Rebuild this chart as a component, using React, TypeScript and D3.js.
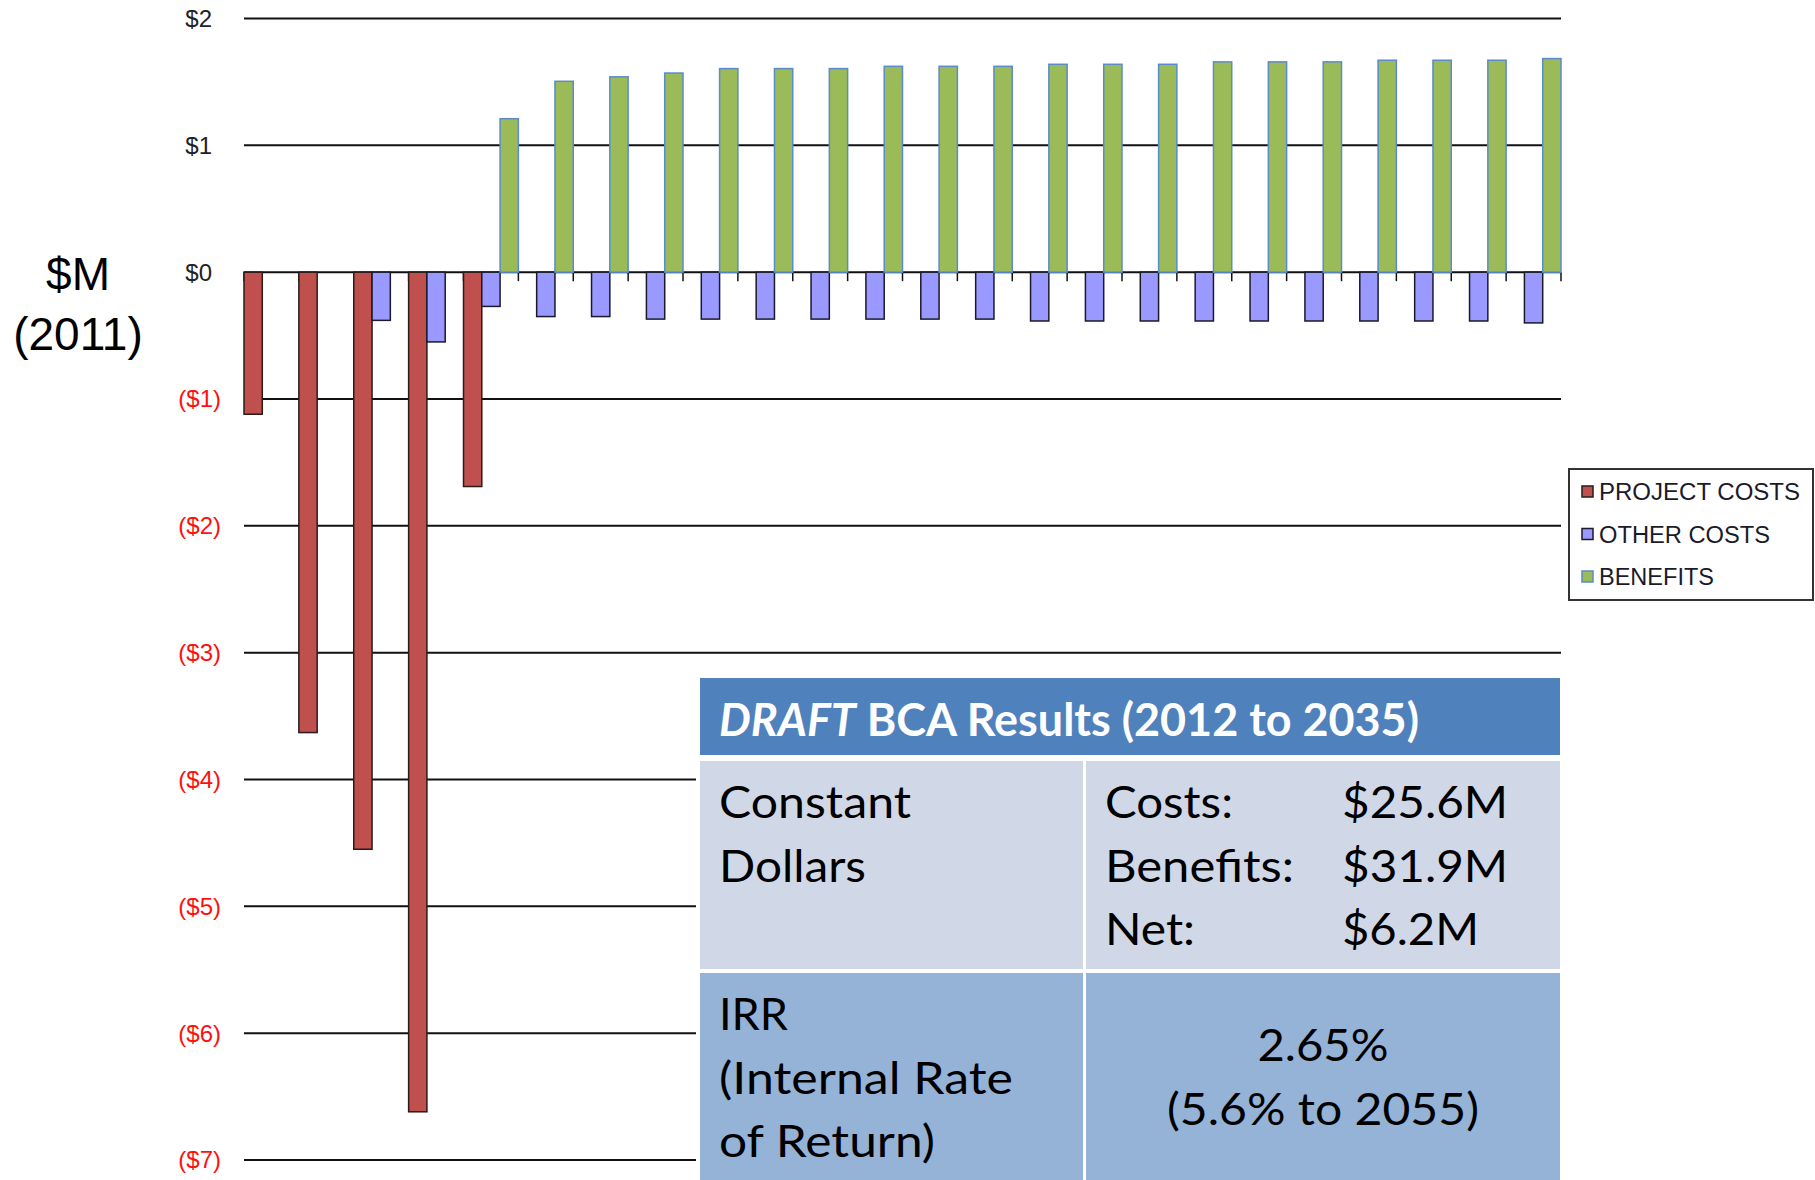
import React from "react";
import * as d3 from "d3";

// Categories (years) and series values, $M (2011)
const years = [
  "2012", "2013", "2014", "2015", "2016", "2017", "2018", "2019",
  "2020", "2021", "2022", "2023", "2024", "2025", "2026", "2027",
  "2028", "2029", "2030", "2031", "2032", "2033", "2034", "2035",
];
const projectCosts = [
  -1.12, -3.63, -4.55, -6.62, -1.69, 0, 0, 0, 0, 0, 0, 0,
  0, 0, 0, 0, 0, 0, 0, 0, 0, 0, 0, 0,
];
const otherCosts = [
  0, 0, -0.38, -0.55, -0.27, -0.35, -0.35, -0.37, -0.37, -0.37, -0.37, -0.37,
  -0.37, -0.37, -0.385, -0.385, -0.385, -0.385, -0.385, -0.385, -0.385, -0.385, -0.385, -0.4,
];
const benefits = [
  0, 0, 0, 0, 1.21, 1.505, 1.54, 1.57, 1.605, 1.605, 1.605, 1.623,
  1.623, 1.623, 1.639, 1.639, 1.639, 1.658, 1.658, 1.658, 1.671, 1.671, 1.671, 1.684,
];
const seriesNames = ["PROJECT COSTS", "OTHER COSTS", "BENEFITS"];
const yTicks = [2, 1, 0, -1, -2, -3, -4, -5, -6, -7];

// Results table text
const tableTitle = ["DRAFT", " BCA Results (2012 to 2035)"];
const constantLabel = ["Constant", "Dollars"];
const resultLabels = ["Costs:", "Benefits:", "Net:"];
const resultValues = ["$25.6M", "$31.9M", "$6.2M"];
const irrLabel = ["IRR", "(Internal Rate", "of Return)"];
const irrValues = ["2.65%", "(5.6% to 2055)"];

const series = [projectCosts, otherCosts, benefits];
const fills = ["#C0504D", "#9999FF", "#9BBB59"];
const strokes = ["#2a1a1a", "#1a1a2a", "#5B8BCB"];

const W = 1815;
const H = 1180;
const axisFont = "'Liberation Sans', Arial, sans-serif";
const tableFont = "Lato, 'Open Sans', sans-serif";

const App = () => {
  const left = 244;
  const right = 1561;

  const x = d3.scaleBand().domain(years).range([left, right]).padding(0);
  const xs = d3
    .scaleBand()
    .domain(seriesNames)
    .range([0, x.bandwidth()])
    .padding(0);
  const y = d3.scaleLinear().domain([-7, 2]).range([1160, 18.5]);

  const fmt = (v) => (v < 0 ? `($${Math.abs(v)})` : `$${v}`);
  const boundaries = years.map((d) => x(d)).concat([right]);

  // table geometry
  const tL = 700;
  const tR = 1560;
  const colX = 1086;
  const c1 = 719;
  const c2 = 1105;
  const c3 = 1342;
  const tableFs = 45;

  const labelWidths = [128, 189, 90];
  const valueWidths = [166, 166, 137];
  const irrWidths = [69, 294, 216];
  const legendWidths = [201, 171, 115];

  return (
    <svg
      width={W}
      height={H}
      style={{ position: "absolute", left: 0, top: 0, background: "#fff" }}
    >
      <rect x={0} y={0} width={W} height={H} fill="#fff" />

      {/* Y axis title */}
      <g fontFamily={axisFont} fontSize={46} fill="#000" textAnchor="middle">
        <text x={78} y={290}>$M</text>
        <text x={78} y={350}>(2011)</text>
      </g>

      {/* gridlines + tick labels */}
      {yTicks.map((t) => (
        <g key={t}>
          <line
            x1={left}
            x2={right}
            y1={y(t)}
            y2={y(t)}
            stroke="#111"
            strokeWidth={2}
          />
          <text
            x={t < 0 ? 221 : 212}
            y={y(t)}
            dy="0.35em"
            textAnchor="end"
            fontFamily={axisFont}
            fontSize={24}
            fill={t < 0 ? "#FF1010" : "#222"}
          >
            {fmt(t)}
          </text>
        </g>
      ))}

      {/* category ticks below the zero line */}
      {boundaries.map((bx, i) => (
        <line
          key={i}
          x1={bx}
          x2={bx}
          y1={y(0)}
          y2={y(0) + 9}
          stroke="#111"
          strokeWidth={1.5}
        />
      ))}

      {/* bars */}
      {series.map((vals, si) =>
        vals.map((v, i) =>
          v === 0 ? null : (
            <rect
              key={`${si}-${i}`}
              x={x(years[i]) + xs(seriesNames[si])}
              y={y(Math.max(0, v))}
              width={xs.bandwidth()}
              height={Math.abs(y(v) - y(0))}
              fill={fills[si]}
              stroke={strokes[si]}
              strokeWidth={1.5}
            />
          )
        )
      )}

      {/* legend */}
      <rect
        x={1569}
        y={469}
        width={244}
        height={131}
        fill="#fff"
        stroke="#333"
        strokeWidth={2}
      />
      {seriesNames.map((name, i) => (
        <g key={name}>
          <rect
            x={1582}
            y={486 + i * 42.5}
            width={11}
            height={11}
            fill={fills[i]}
            stroke={strokes[i]}
            strokeWidth={1.5}
          />
          <text
            x={1599}
            y={500 + i * 42.5}
            fontFamily={axisFont}
            fontSize={23}
            fill="#1a1a2a"
            textLength={legendWidths[i]}
            lengthAdjust="spacingAndGlyphs"
          >
            {name}
          </text>
        </g>
      ))}

      {/* results table */}
      <rect x={696} y={674} width={868} height={H - 674} fill="#fff" />
      <rect x={tL} y={678} width={tR - tL} height={77} fill="#4F81BD" />
      <rect x={tL} y={761} width={colX - 3 - tL} height={208} fill="#D0D8E8" />
      <rect x={colX} y={761} width={tR - colX} height={208} fill="#D0D8E8" />
      <rect x={tL} y={973} width={colX - 3 - tL} height={H - 973} fill="#95B3D7" />
      <rect x={colX} y={973} width={tR - colX} height={H - 973} fill="#95B3D7" />

      <g fontFamily={tableFont} fontSize={tableFs}>
        <text
          x={c1}
          y={736}
          fill="#fff"
          fontWeight="bold"
          textLength={700}
          lengthAdjust="spacingAndGlyphs"
        >
          <tspan fontStyle="italic">{tableTitle[0]}</tspan>
          <tspan>{tableTitle[1]}</tspan>
        </text>

        {constantLabel.map((s, i) => (
          <text
            key={s}
            x={c1}
            y={818 + i * 64}
            fill="#000"
            textLength={i === 0 ? 192 : 147}
            lengthAdjust="spacingAndGlyphs"
          >
            {s}
          </text>
        ))}

        {resultLabels.map((s, i) => (
          <text
            key={s}
            x={c2}
            y={818 + i * 63.5}
            fill="#000"
            textLength={labelWidths[i]}
            lengthAdjust="spacingAndGlyphs"
          >
            {s}
          </text>
        ))}
        {resultValues.map((s, i) => (
          <text
            key={s}
            x={c3}
            y={818 + i * 63.5}
            fill="#000"
            textLength={valueWidths[i]}
            lengthAdjust="spacingAndGlyphs"
          >
            {s}
          </text>
        ))}

        {irrLabel.map((s, i) => (
          <text
            key={s}
            x={c1}
            y={1030 + i * 63.5}
            fill="#000"
            textLength={irrWidths[i]}
            lengthAdjust="spacingAndGlyphs"
          >
            {s}
          </text>
        ))}

        {irrValues.map((s, i) => (
          <text
            key={s}
            x={(colX + tR) / 2}
            y={1061 + i * 64}
            fill="#000"
            textAnchor="middle"
            textLength={i === 0 ? 131 : 312}
            lengthAdjust="spacingAndGlyphs"
          >
            {s}
          </text>
        ))}
      </g>
    </svg>
  );
};

export default App;
